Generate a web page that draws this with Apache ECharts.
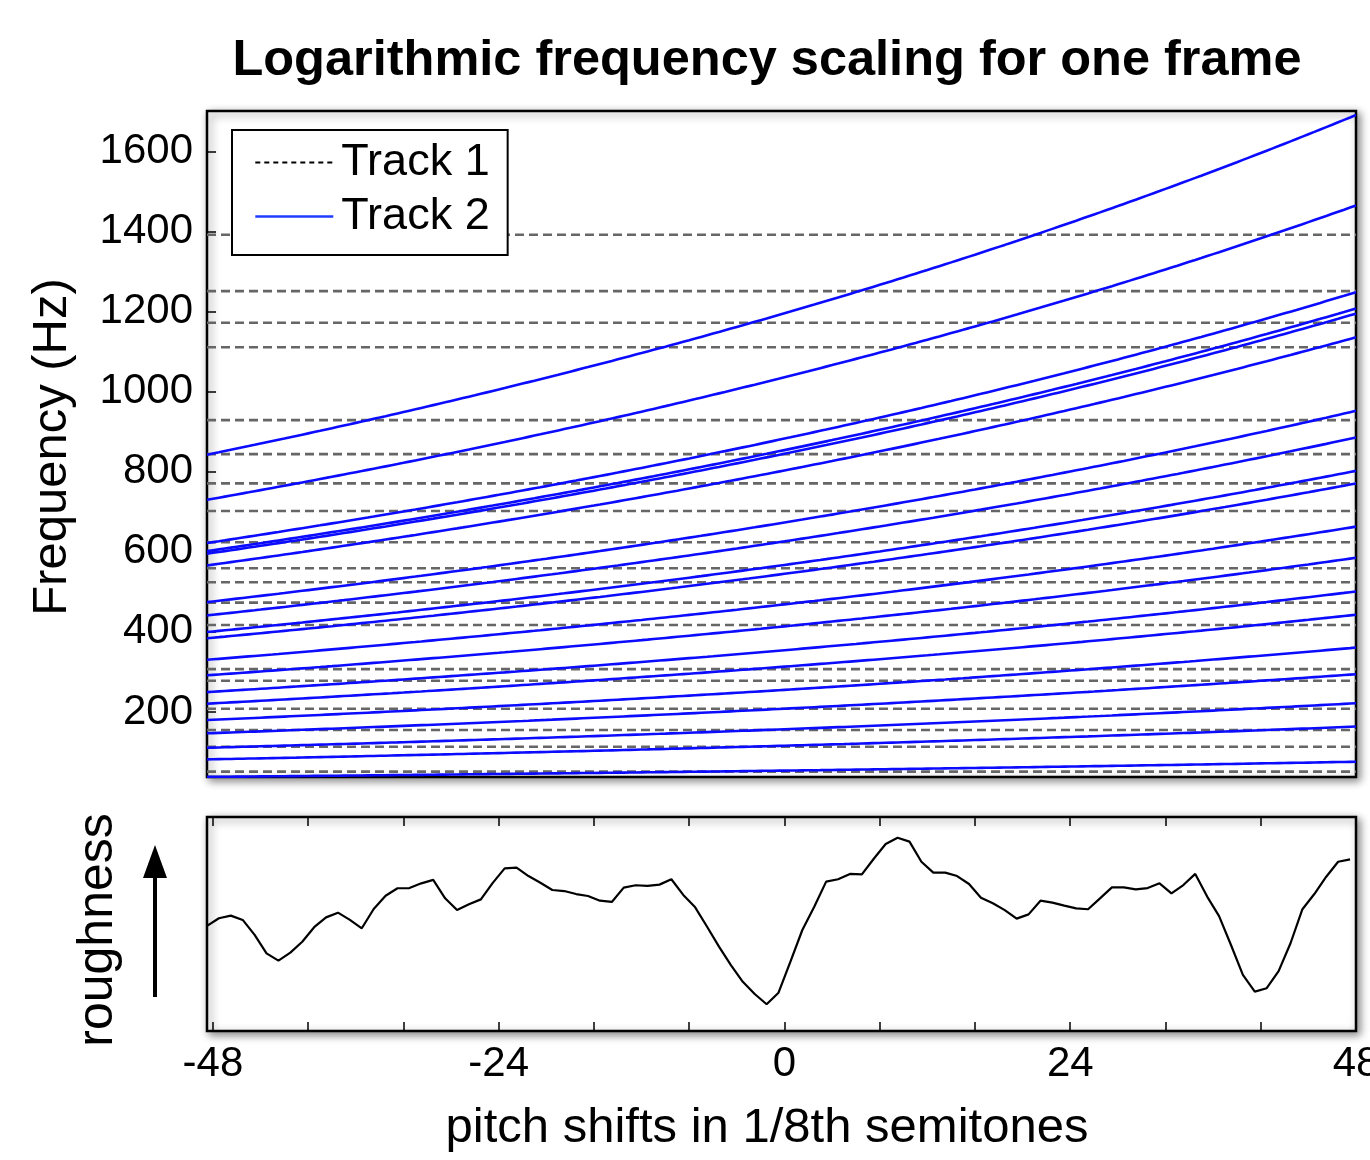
<!DOCTYPE html>
<html>
<head>
<meta charset="utf-8">
<title>Logarithmic frequency scaling for one frame</title>
<script src="https://cdn.jsdelivr.net/npm/echarts@6/dist/echarts.min.js"></script>
<style>
  html, body { margin: 0; padding: 0; background: #fff; }
  #chart { width: 1370px; height: 1160px; }
</style>
</head>
<body>
<div id="chart"></div>
<script>
// Partial frequencies (Hz) of the reference track, drawn as horizontal dashed lines
const track1Freqs = [51, 113, 155, 208, 278, 307, 417, 473, 524, 559, 624, 702, 771, 844, 929, 1111, 1172, 1251, 1392];

// Partial frequencies (Hz) of the second track at zero pitch shift
const track2Freqs = [1195.7, 1036.0, 882.8, 854.0, 844.9, 803.2, 673.2, 626.1, 567.2, 545.0,
                     468.7, 413.7, 354.2, 313.1, 255.1, 208.1, 156.8, 115.6, 53.5];

// Pitch-shift grid (in 1/8th semitones) on which the shifted partials are evaluated
const shiftMin = -48.5;
const shiftMax = 48;
const shiftStep = 0.5;

// Roughness (arbitrary units) for each shift, starting at -48.5 in steps of one 1/8th semitone
const roughnessStart = -48.5;
const roughness = [
  49.1, 52.7, 53.9, 51.9, 44.9, 36.3, 32.9, 36.6, 41.7, 48.5,
  53.1, 55.3, 51.9, 48.0, 57.0, 63.2, 66.7, 66.8, 69.0, 70.6,
  62.0, 56.5, 59.2, 61.5, 69.2, 76.0, 76.3, 72.4, 69.3, 65.9,
  65.4, 64.0, 63.1, 60.9, 60.3, 67.0, 68.1, 67.8, 68.4, 70.9,
  63.6, 57.8, 48.7, 39.4, 30.8, 23.0, 17.3, 12.5, 17.9, 32.4,
  47.2, 58.1, 69.8, 70.9, 73.4, 73.2, 80.5, 87.4, 90.3, 88.5,
  79.1, 74.0, 74.0, 72.4, 68.7, 62.3, 59.7, 56.5, 52.5, 54.5,
  60.9, 60.0, 58.6, 57.3, 56.9, 62.0, 67.1, 67.1, 66.2, 66.8,
  69.0, 64.3, 68.2, 73.4, 62.8, 53.7, 40.2, 26.2, 18.4, 20.0,
  28.0, 41.0, 56.9, 64.0, 72.1, 79.1, 80.2
];

// Axis ticks and labels
const freqTicks = [200, 400, 600, 800, 1000, 1200, 1400, 1600];
const shiftTicks = [-48, -40, -32, -24, -16, -8, 0, 8, 16, 24, 32, 40, 48];
const shiftLabels = [-48, -24, 0, 24, 48];

const FONT = '"Liberation Sans", Arial, Helvetica, sans-serif';
const BLUE = '#0b0bff';
const GREY = '#666';

// A shift of s eighth-semitones multiplies a frequency by 2^(s/96)
function shifted(f) {
  const pts = [];
  for (let s = shiftMin; s <= shiftMax + 1e-9; s += shiftStep) {
    pts.push([s, f * Math.pow(2, s / 96)]);
  }
  return pts;
}

const series = [];
track1Freqs.forEach(f => {
  series.push({
    name: 'Track 1', type: 'line', xAxisIndex: 0, yAxisIndex: 0,
    data: [[shiftMin, f], [shiftMax, f]],
    symbol: 'none', silent: true, animation: false, z: 2,
    itemStyle: { color: GREY },
    lineStyle: { color: GREY, width: 2.6, type: [9, 5] }
  });
});
track2Freqs.forEach(f => {
  series.push({
    name: 'Track 2', type: 'line', xAxisIndex: 0, yAxisIndex: 0,
    data: shifted(f),
    symbol: 'none', silent: true, animation: false, z: 3,
    itemStyle: { color: BLUE },
    lineStyle: { color: BLUE, width: 2.6 }
  });
});
series.push({
  name: 'roughness', type: 'line', xAxisIndex: 1, yAxisIndex: 1,
  data: roughness.map((v, i) => [roughnessStart + i, v]),
  symbol: 'none', silent: true, animation: false,
  itemStyle: { color: '#000' },
  lineStyle: { color: '#000', width: 2.2 }
});

const gridBox = {
  show: true, backgroundColor: '#fff', borderColor: '#000', borderWidth: 2.5,
  shadowColor: 'rgba(0,0,0,0.45)', shadowBlur: 8, shadowOffsetX: 3, shadowOffsetY: 3,
  containLabel: false, outerBoundsMode: 'none'
};

const tickStyle = { color: '#000', width: 1.5 };

const option = {
  backgroundColor: '#fff',
  animation: false,
  grid: [
    Object.assign({ left: 207, top: 111, width: 1149, height: 666 }, gridBox),
    Object.assign({ left: 207, top: 817, width: 1149, height: 214 }, gridBox)
  ],
  xAxis: [
    {
      type: 'value', gridIndex: 0, min: shiftMin, max: shiftMax,
      axisLine: { show: false, onZero: false }, axisTick: { show: false },
      axisLabel: { show: false }, splitLine: { show: false }
    },
    {
      type: 'value', gridIndex: 1, min: shiftMin, max: shiftMax, position: 'bottom',
      axisLine: { show: false, onZero: false },
      axisTick: { show: true, inside: true, length: 9, customValues: shiftTicks, lineStyle: tickStyle },
      axisLabel: { show: true, customValues: shiftLabels, margin: 12,
                   fontSize: 42, fontFamily: FONT, color: '#000' },
      splitLine: { show: false }
    },
    {
      type: 'value', gridIndex: 1, min: shiftMin, max: shiftMax, position: 'top',
      axisLine: { show: false, onZero: false },
      axisTick: { show: true, inside: true, length: 9, customValues: shiftTicks, lineStyle: tickStyle },
      axisLabel: { show: false }, splitLine: { show: false }
    }
  ],
  yAxis: [
    {
      type: 'value', gridIndex: 0, min: 37.5, max: 1701, position: 'left',
      axisLine: { show: false, onZero: false },
      axisTick: { show: true, inside: true, length: 9, customValues: freqTicks, lineStyle: tickStyle },
      axisLabel: { show: true, customValues: freqTicks, margin: 14,
                   formatter: v => String(v),
                   fontSize: 42, fontFamily: FONT, color: '#000' },
      splitLine: { show: false }
    },
    {
      type: 'value', gridIndex: 1, min: 0, max: 100, position: 'left',
      axisLine: { show: false, onZero: false }, axisTick: { show: false },
      axisLabel: { show: false }, splitLine: { show: false }
    }
  ],
  legend: {
    orient: 'vertical', left: 232, top: 130,
    padding: [10, 18, 16, 22], itemGap: 9, itemWidth: 78, itemHeight: 14,
    backgroundColor: '#fff', borderColor: '#000', borderWidth: 2, borderRadius: 0,
    textStyle: { fontSize: 45, fontFamily: FONT, color: '#000', padding: [0, 0, 0, 3] },
    data: [
      { name: 'Track 1', itemStyle: { opacity: 0 }, lineStyle: { color: '#000', width: 2, type: [5, 4] } },
      { name: 'Track 2', itemStyle: { opacity: 0 }, lineStyle: { color: '#1f3cff', width: 2.6, type: 'solid' } }
    ],
    selectedMode: false
  },
  graphic: [
    {
      type: 'text', x: 767, y: 61,
      style: { text: 'Logarithmic frequency scaling for one frame', fontSize: 50.5, fontWeight: 'bold',
               fontFamily: FONT, fill: '#000', align: 'center', verticalAlign: 'middle' }
    },
    {
      type: 'text', x: 52, y: 447, rotation: Math.PI / 2,
      style: { text: 'Frequency (Hz)', fontSize: 49, fontFamily: FONT, fill: '#000',
               align: 'center', verticalAlign: 'middle' }
    },
    {
      type: 'text', x: 98, y: 930, rotation: Math.PI / 2,
      style: { text: 'roughness', fontSize: 50, fontFamily: FONT, fill: '#000',
               align: 'center', verticalAlign: 'middle' }
    },
    {
      type: 'text', x: 767, y: 1128,
      style: { text: 'pitch shifts in 1/8th semitones', fontSize: 49, fontFamily: FONT, fill: '#000',
               align: 'center', verticalAlign: 'middle' }
    },
    {
      type: 'line', shape: { x1: 155, y1: 997, x2: 155, y2: 872 },
      style: { stroke: '#000', lineWidth: 4 }
    },
    {
      type: 'polygon', shape: { points: [[155, 845], [143, 878], [167, 878]] },
      style: { fill: '#000' }
    }
  ],
  series: series
};

const chart = echarts.init(document.getElementById('chart'), null, { renderer: 'canvas' });
chart.setOption(option);
</script>
</body>
</html>
